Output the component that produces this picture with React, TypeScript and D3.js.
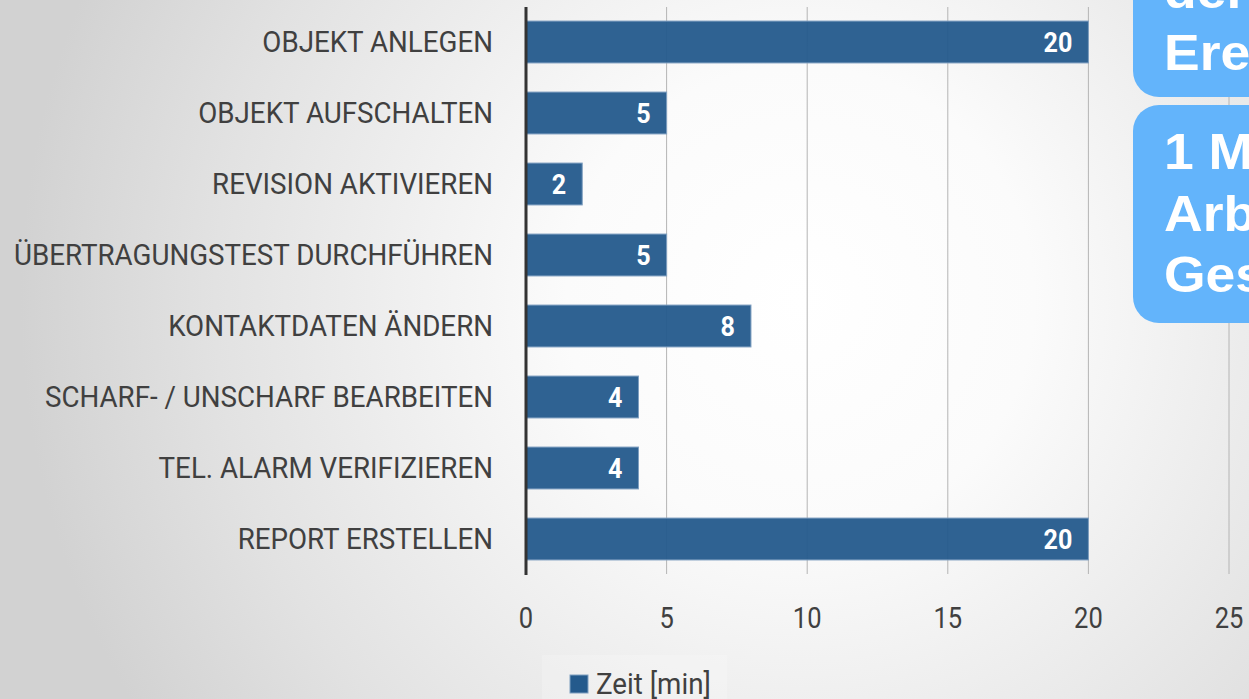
import React, { useEffect } from "react";
import * as d3 from "d3";

const categories = [
  "OBJEKT ANLEGEN",
  "OBJEKT AUFSCHALTEN",
  "REVISION AKTIVIEREN",
  "ÜBERTRAGUNGSTEST DURCHFÜHREN",
  "KONTAKTDATEN ÄNDERN",
  "SCHARF- / UNSCHARF BEARBEITEN",
  "TEL. ALARM VERIFIZIEREN",
  "REPORT ERSTELLEN",
];
const values = [20, 5, 2, 5, 8, 4, 4, 20];
const ticks = [0, 5, 10, 15, 20, 25];
const seriesName = "Zeit [min]";
const calloutTop = ["der", "Ereignisse"];
const calloutBottom = ["1 Mitarbeiter", "Arbeitszeit", "Gesamt"];

const W = 1249;
const H = 699;
const FONT = "Roboto, 'Liberation Sans', sans-serif";
const COND_TEXT = 0.925;
const COND_NUM = 0.85;
const COND_VAL = 0.93;

export default function App() {
  useEffect(() => {
    document.body.style.margin = "0";
  }, []);

  const x = d3.scaleLinear().domain([0, 25]).range([526, 1229]);
  const y = d3
    .scaleBand<string>()
    .domain(categories)
    .range([6.5, 574.5])
    .paddingInner(0.41)
    .paddingOuter(0.205);

  const barColor = "#245a8c";

  return (
    <svg width={W} height={H} style={{ display: "block" }}>
      <defs>
        <radialGradient id="bg" cx="800" cy="300" r="780" gradientUnits="userSpaceOnUse">
          <stop offset="0" stopColor="#ffffff" />
          <stop offset="0.3" stopColor="#fbfbfb" />
          <stop offset="0.75" stopColor="#e2e2e2" />
          <stop offset="1" stopColor="#d2d2d2" />
        </radialGradient>
      </defs>
      <rect width={W} height={H} fill="url(#bg)" />

      {/* gridlines */}
      {ticks.slice(1).map((t) => (
        <line
          key={t}
          x1={x(t)}
          x2={x(t)}
          y1={7}
          y2={574}
          stroke="#b4b4b4"
          strokeWidth={1}
        />
      ))}

      {/* bars */}
      {categories.map((c, i) => {
        const cy = (y(c) as number) + y.bandwidth() / 2;
        return (
          <g key={c}>
            <rect
              x={x(0)}
              y={y(c)}
              width={x(values[i]) - x(0)}
              height={y.bandwidth()}
              fill={barColor}
              fillOpacity={0.95}
              stroke="#7f9fc0"
              strokeWidth={1}
            />
            <g transform={`translate(${x(values[i]) - 16},${cy + 0.5}) scale(${COND_VAL},1)`}>
              <text
                textAnchor="end"
                dominantBaseline="central"
                fill="#ffffff"
                fontFamily={FONT}
                fontWeight={700}
                fontSize={27}
              >
                {values[i]}
              </text>
            </g>
            <g transform={`translate(493,${cy}) scale(${COND_TEXT},1)`}>
              <text
                textAnchor="end"
                dominantBaseline="central"
                fill="#404040"
                fontFamily={FONT}
                fontSize={30}
              >
                {c}
              </text>
            </g>
          </g>
        );
      })}

      {/* axis line */}
      <line x1={x(0)} x2={x(0)} y1={7} y2={575} stroke="#333333" strokeWidth={3} />

      {/* tick labels */}
      {ticks.map((t) => (
        <g key={t} transform={`translate(${x(t)},618) scale(${COND_NUM},1)`}>
          <text
            textAnchor="middle"
            dominantBaseline="central"
            fill="#404040"
            fontFamily={FONT}
            fontSize={30}
          >
            {t}
          </text>
        </g>
      ))}

      {/* legend */}
      <rect x={542} y={655} width={185} height={50} fill="#ffffff" fillOpacity={0.2} />
      <rect x={570} y={675} width={18} height={18} fill={barColor} stroke="#7f9fc0" strokeWidth={1} />
      <g transform={`translate(596,694) scale(${COND_TEXT},1)`}>
        <text fill="#404040" fontFamily={FONT} fontSize={30}>
          {seriesName}
        </text>
      </g>

      {/* callouts */}
      <rect x={1133} y={-60} width={200} height={157} rx={26} fill="#63b4fb" />
      <rect x={1133} y={105} width={200} height={218} rx={26} fill="#63b4fb" />
      {calloutTop.map((s, i) => (
        <g key={s} transform={`translate(1164,${8 + i * 61.5}) scale(1.07,1)`}>
          <text
            fill="#ffffff"
            fontFamily="'Liberation Sans', Arial, sans-serif"
            fontWeight={700}
            fontSize={50}
          >
            {s}
          </text>
        </g>
      ))}
      {calloutBottom.map((s, i) => (
        <g key={s} transform={`translate(1164,${169 + i * 61.5}) scale(1.07,1)`}>
          <text
            fill="#ffffff"
            fontFamily="'Liberation Sans', Arial, sans-serif"
            fontWeight={700}
            fontSize={50}
          >
            {s}
          </text>
        </g>
      ))}
    </svg>
  );
}
